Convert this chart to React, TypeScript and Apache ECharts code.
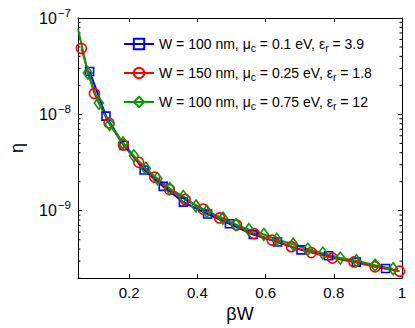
import React, { useEffect, useRef } from "react";
import * as echarts from "echarts";

const FONT = "Liberation Sans, Arial, Helvetica, sans-serif";

// Series 1: W = 100 nm, mu_c = 0.1 eV, eps_r = 3.9 (blue squares)
const blueX = [0.084, 0.132, 0.185, 0.244, 0.300, 0.359, 0.430, 0.494, 0.564, 0.635, 0.704, 0.785, 0.866, 0.952];
const blueY = [2.79e-8, 9.6e-9, 4.75e-9, 2.65e-9, 1.79e-9, 1.23e-9, 9.25e-10, 7.32e-10, 5.67e-10, 4.73e-10, 3.93e-10, 3.41e-10, 2.93e-10, 2.52e-10];

// Series 2: W = 150 nm, mu_c = 0.25 eV, eps_r = 1.8 (red circles)
const redX = [0.060, 0.098, 0.141, 0.183, 0.228, 0.275, 0.318, 0.364, 0.417, 0.465, 0.515, 0.566, 0.619, 0.676, 0.734, 0.796, 0.859, 0.921, 0.993];
const redY = [4.84e-8, 1.65e-8, 8.15e-9, 4.82e-9, 3.18e-9, 2.23e-9, 1.66e-9, 1.31e-9, 1.04e-9, 8.43e-10, 7.1e-10, 5.8e-10, 4.96e-10, 4.24e-10, 3.68e-10, 3.23e-10, 2.94e-10, 2.62e-10, 2.36e-10];

// Series 3: W = 100 nm, mu_c = 0.75 eV, eps_r = 12 (green diamonds); first point is line-only
const greenX = [0.05, 0.079, 0.111, 0.143, 0.182, 0.214, 0.249, 0.283, 0.319, 0.359, 0.396, 0.428, 0.475, 0.513, 0.551, 0.595, 0.633, 0.681, 0.724, 0.768, 0.819, 0.866, 0.921, 0.974];
const greenY = [7.73e-8, 2.68e-8, 1.31e-8, 7.87e-9, 5.06e-9, 3.71e-9, 2.75e-9, 2.15e-9, 1.70e-9, 1.40e-9, 1.12e-9, 9.84e-10, 8.36e-10, 7.16e-10, 6.37e-10, 5.67e-10, 5.04e-10, 4.49e-10, 3.99e-10, 3.63e-10, 3.23e-10, 3.03e-10, 2.72e-10, 2.50e-10];

const seriesNames = [
  "W = 100 nm, μc = 0.1 eV, εr = 3.9",
  "W = 150 nm, μc = 0.25 eV, εr = 1.8",
  "W = 100 nm, μc = 0.75 eV, εr = 12",
];
const legendRich = [
  "{n|W = 100 nm, μ}{s|c}{n| = 0.1 eV, ε}{s|r}{n| = 3.9}",
  "{n|W = 150 nm, μ}{s|c}{n| = 0.25 eV, ε}{s|r}{n| = 1.8}",
  "{n|W = 100 nm, μ}{s|c}{n| = 0.75 eV, ε}{s|r}{n| = 12}",
];

const xMin = 0.05;
const xMax = 1;
const xTicks = [0.2, 0.4, 0.6, 0.8, 1];
const yMin = 2e-10;
const yMax = 1e-7;
const yMinorTicks = [
  2e-10, 3e-10, 4e-10, 5e-10, 6e-10, 7e-10, 8e-10, 9e-10,
  2e-9, 3e-9, 4e-9, 5e-9, 6e-9, 7e-9, 8e-9, 9e-9,
  2e-8, 3e-8, 4e-8, 5e-8, 6e-8, 7e-8, 8e-8, 9e-8,
];

export default function App() {
  const ref = useRef<HTMLDivElement>(null);
  useEffect(() => {
    const chart = echarts.init(ref.current!, null, { renderer: "svg" });
    const axisLine = { show: true, onZero: false, lineStyle: { color: "#000", width: 1 } };
    const pair = (xs: number[], ys: number[]) => xs.map((x, i) => [x, ys[i]]);
    const greenData: any[] = pair(greenX, greenY).map((p, i) =>
      i === 0 ? { value: p, symbol: "none" } : p
    );
    const option: any = {
      animation: false,
      backgroundColor: "#fff",
      grid: { left: 71, top: 18, right: 13, bottom: 45, containLabel: false },
      legend: {
        data: seriesNames,
        orient: "vertical",
        left: 123,
        top: 37,
        padding: 0,
        itemGap: 12.5,
        itemWidth: 30,
        itemHeight: 13,
        formatter: (name: string) => legendRich[seriesNames.indexOf(name)],
        textStyle: {
          rich: {
            n: { fontSize: 14, fontFamily: FONT, color: "#000", lineHeight: 18 },
            s: { fontSize: 10.5, fontFamily: FONT, color: "#000", padding: [8, 0, 0, 0] },
          },
        },
      },
      xAxis: [
        {
          type: "value",
          min: xMin,
          max: xMax,
          position: "bottom",
          axisLine,
          axisTick: { inside: true, length: 4, customValues: xTicks, lineStyle: { color: "#000" } },
          axisLabel: {
            customValues: xTicks,
            formatter: (v: number) => String(+v.toFixed(2)),
            fontSize: 15,
            color: "#000",
            fontFamily: FONT,
            margin: 7,
          },
          splitLine: { show: false },
          name: "βW",
          nameLocation: "middle",
          nameGap: 21,
          nameTextStyle: { fontSize: 18, color: "#000", fontFamily: FONT },
        },
        {
          type: "value",
          min: xMin,
          max: xMax,
          position: "top",
          axisLine,
          axisTick: { inside: true, length: 4, customValues: xTicks, lineStyle: { color: "#000" } },
          axisLabel: { show: false },
          splitLine: { show: false },
        },
      ],
      yAxis: [
        {
          type: "log",
          logBase: 10,
          min: yMin,
          max: yMax,
          position: "left",
          axisLine,
          axisTick: { inside: true, length: 4, lineStyle: { color: "#000" } },
          axisLabel: {
            showMinLabel: false,
            margin: 7,
            formatter: (v: number) => {
              const e = Math.round(Math.log10(v));
              return "{b|10}{s|−" + Math.abs(e) + "}";
            },
            rich: {
              b: { fontSize: 16, fontFamily: FONT, color: "#000" },
              s: { fontSize: 11.5, fontFamily: FONT, color: "#000", padding: [0, 0, 11, 1] },
            },
          },
          splitLine: { show: false },
          name: "η",
          nameLocation: "middle",
          nameGap: 52,
          nameTextStyle: { fontSize: 18, color: "#000", fontFamily: FONT },
        },
        {
          type: "log",
          logBase: 10,
          min: yMin,
          max: yMax,
          position: "right",
          axisLine,
          axisTick: { inside: true, length: 4, lineStyle: { color: "#000" } },
          axisLabel: { show: false },
          splitLine: { show: false },
        },
      ],
      series: [
        {
          type: "custom",
          name: "minorTicks",
          silent: true,
          clip: false,
          xAxisIndex: 0,
          yAxisIndex: 0,
          data: yMinorTicks.map((v) => [xMin, v]),
          renderItem: (_p: any, api: any) => {
            const v = api.value(1);
            const l = api.coord([xMin, v]);
            const r = api.coord([xMax, v]);
            return {
              type: "group",
              children: [
                { type: "line", shape: { x1: l[0], y1: l[1], x2: l[0] + 2.5, y2: l[1] }, style: { stroke: "#000", lineWidth: 1 } },
                { type: "line", shape: { x1: r[0] - 2.5, y1: r[1], x2: r[0], y2: r[1] }, style: { stroke: "#000", lineWidth: 1 } },
              ],
            };
          },
        },
        {
          type: "line",
          name: seriesNames[0],
          data: pair(blueX, blueY),
          symbol: "rect",
          symbolSize: 8,
          lineStyle: { color: "#0000ff", width: 2 },
          itemStyle: { color: "rgba(255,255,255,0)", borderColor: "#0000ff", borderWidth: 1.6 },
        },
        {
          type: "line",
          name: seriesNames[1],
          data: pair(redX, redY),
          symbol: "circle",
          symbolSize: 10,
          lineStyle: { color: "#ff0000", width: 2 },
          itemStyle: { color: "rgba(255,255,255,0)", borderColor: "#ff0000", borderWidth: 1.6 },
        },
        {
          type: "line",
          name: seriesNames[2],
          data: greenData,
          symbol: "diamond",
          symbolSize: [9, 12],
          lineStyle: { color: "#0a960a", width: 2 },
          itemStyle: { color: "rgba(255,255,255,0)", borderColor: "#0a960a", borderWidth: 1.6 },
        },
      ],
    };
    chart.setOption(option);
    return () => chart.dispose();
  }, []);
  return (
    <div
      ref={ref}
      style={{ position: "fixed", left: 0, top: 0, width: 415, height: 328, background: "#fff" }}
    />
  );
}
